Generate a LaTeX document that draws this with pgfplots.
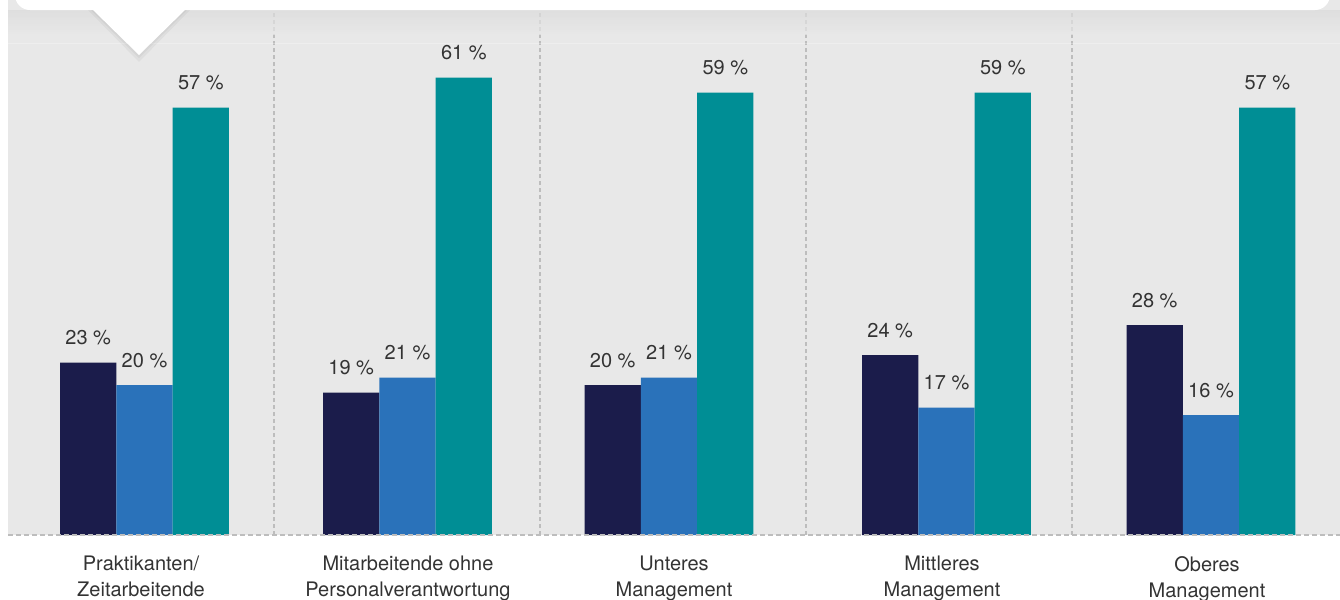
\documentclass[border=0pt]{standalone}
\usepackage{fontspec}
\setmainfont{TeX Gyre Heros}
\usepackage{pgfplots}
\pgfplotsset{compat=1.18}
\definecolor{bg}{HTML}{E8E8E8}
\definecolor{navy}{HTML}{1B1C4B}
\definecolor{cblue}{HTML}{2A72BA}
\definecolor{cteal}{HTML}{008E95}
\definecolor{txt}{HTML}{333333}
\definecolor{dashc}{HTML}{BDBDBD}
\begin{document}
\begin{tikzpicture}
\useasboundingbox (0pt,-300pt) rectangle (670pt,0pt);
\clip (0pt,-300pt) rectangle (670pt,0pt);
\begin{axis}[
  at={(4pt,-267.5pt)}, anchor=south west,
  scale only axis, width=666pt, height=267.5pt,
  xmin=8, xmax=1340, ymin=0, ymax=71.3333,
  axis line style={draw=none},
  axis background/.style={fill=bg},
  major tick length=0pt,
  ytick=\empty,
  xtick={141,408,674,942,1207},
  xticklabels={{Praktikanten/\\Zeitarbeitende},{Mitarbeitende ohne\\Personalverantwortung},{Unteres\\Management},{Mittleres\\Management},{Oberes\\Management}},
  xticklabel style={anchor=north, inner sep=0pt, yshift=-10.5pt, align=center, text=txt, font=\fontsize{10}{13}\selectfont},
  extra x ticks={274,540,806,1072},
  extra x tick labels={},
  extra x tick style={grid=major, major grid style={dashc, line width=0.6pt, dash pattern=on 2pt off 1.5pt}},
  ybar, bar width=56.3,
  nodes near coords={\pgfmathprintnumber[assume math mode=true]{\pgfplotspointmeta}\ \%},
  every node near coord/.append style={anchor=south, inner sep=0pt, yshift=8.5pt, text=txt, font=\fontsize{10}{12}\selectfont},
  clip=false,
]
\addplot[fill=navy, draw=none, bar shift=-56.3] coordinates {(144.5,23) (407.5,19) (669,20) (946.5,24) (1211,28)};
\addplot[fill=cblue, draw=none, bar shift=0] coordinates {(144.5,20) (407.5,21) (669,21) (946.5,17) (1211,16)};
\addplot[fill=cteal, draw=none, bar shift=56.3] coordinates {(144.5,57) (407.5,61) (669,59) (946.5,59) (1211,57)};
\draw[dashc, line width=0.8pt, dash pattern=on 2.5pt off 1.5pt] (axis cs:8,0) -- (axis cs:1340,0);
\end{axis}
\begin{scope}[x=0.5pt,y=-0.5pt]
\shade[top color=black!14, bottom color=bg, opacity=0.7] (8,10) rectangle (1340,34);
\draw[white, opacity=0.3, line width=0.5pt] (8,43) -- (1340,43);
\fill[black, opacity=0.04] (88,10) -- (139,62) -- (190,10) -- cycle;
\fill[black, opacity=0.04] (91,10) -- (139,58) -- (187,10) -- cycle;
\fill[white, rounded corners=7.5pt] (15,-40) rectangle (1330,10);
\fill[white] (92,9) -- (139,55) -- (186,9) -- cycle;
\end{scope}
\end{tikzpicture}
\end{document}
